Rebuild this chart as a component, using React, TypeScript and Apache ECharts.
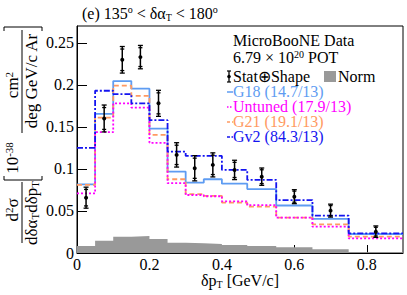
import React, { useEffect, useRef } from 'react';
import * as echarts from 'echarts';

// Bin edges of δp_T [GeV/c]
const binEdges = [0, 0.05, 0.1, 0.15, 0.2, 0.25, 0.3, 0.35, 0.4, 0.47, 0.55, 0.65, 0.75, 0.9];

// MicroBooNE data
const dataValues = [0.0658, 0.16, 0.2298, 0.233, 0.178, 0.1167, 0.1008, 0.1048, 0.0988, 0.0908, 0.067, 0.0504, 0.0254];
const totalErrors = [0.0125, 0.016, 0.0158, 0.0139, 0.0155, 0.0145, 0.015, 0.0143, 0.0115, 0.0103, 0.0083, 0.0077, 0.0068];
const statErrors = [0.0098, 0.013, 0.0128, 0.0112, 0.0125, 0.0115, 0.012, 0.0115, 0.009, 0.0082, 0.0066, 0.006, 0.0052];

// Generator predictions
const g18Values = [0.0817, 0.1655, 0.2045, 0.1955, 0.148, 0.0968, 0.0837, 0.0877, 0.0825, 0.076, 0.0565, 0.0405, 0.0226];
const untunedValues = [0.071, 0.1437, 0.178, 0.173, 0.131, 0.083, 0.069, 0.0675, 0.0615, 0.057, 0.042, 0.0313, 0.0175];
const g21Values = [0.081, 0.161, 0.199, 0.187, 0.1405, 0.0877, 0.07, 0.068, 0.06, 0.0552, 0.042, 0.034, 0.0194];
const gv2Values = [0.125, 0.193, 0.189, 0.178, 0.158, 0.1206, 0.1155, 0.1155, 0.0988, 0.0869, 0.063, 0.0444, 0.0234];

// Normalisation uncertainty
const normValues = [0.0083, 0.0147, 0.0194, 0.0202, 0.0167, 0.0123, 0.0115, 0.0107, 0.0095, 0.0083, 0.0067, 0.0044, 0.001];

const legendLabels = ['G18 (14.7/13)', 'Untuned (17.9/13)', 'G21 (19.1/13)', 'Gv2 (84.3/13)'];

const SERIF = 'Liberation Serif';
const C_G18 = '#5E9CF2';
const C_UNT = '#FF00FF';
const C_G21 = '#FF9A62';
const C_GV2 = '#1414F0';
const C_NORM = '#999999';

function histPoints(vals: number[]) {
  const pts: number[][] = [];
  vals.forEach((v, i) => {
    pts.push([binEdges[i], v]);
    pts.push([binEdges[i + 1], v]);
  });
  return pts;
}

const richBase = (size: number, lh = 16, color = '#000') => ({
  b: { fontSize: size, fontFamily: SERIF, color, lineHeight: lh },
  p: { fontSize: Math.round(size * 0.65), fontFamily: SERIF, color, lineHeight: 8, verticalAlign: 'top' },
  s: { fontSize: Math.round(size * 0.65), fontFamily: SERIF, color, lineHeight: 8, verticalAlign: 'bottom' },
});

export default function App() {
  const ref = useRef<HTMLDivElement>(null);
  useEffect(() => {
    if (!ref.current) return;
    const chart = echarts.init(ref.current, null, { renderer: 'svg' });

    const hist = (name: string, vals: number[], color: string, dash: any, z: number) => ({
      name,
      type: 'line',
      data: histPoints(vals),
      showSymbol: false,
      symbol: 'none',
      silent: true,
      z,
      lineStyle: { color, width: 1.8, type: dash },
    });

    const errData = dataValues.map((v, i) => [
      (binEdges[i] + binEdges[i + 1]) / 2,
      v,
      totalErrors[i],
      statErrors[i],
    ]);

    const titleRich = richBase(16, 18);
    const axRich = richBase(17, 18);
    const legRich = richBase(16, 15);

    const legendItems: any[] = [];
    const legColors = [C_G18, C_UNT, C_G21, C_GV2];
    const legDash = [[], [1.5, 1.5], [3, 2], [3, 1.5, 1.5, 1.5]];
    const legY = [91, 106, 121, 136];
    legendLabels.forEach((lab, i) => {
      legendItems.push({
        type: 'line',
        shape: { x1: 227, y1: legY[i] + 1, x2: 233, y2: legY[i] + 1 },
        style: { stroke: legColors[i], lineWidth: 1.5, lineDash: legDash[i].length ? legDash[i] : null },
      });
      legendItems.push({
        type: 'text',
        x: 233,
        y: legY[i],
        style: { text: lab, fontSize: 16, lineHeight: 14, fontFamily: SERIF, fill: legColors[i], verticalAlign: 'middle', align: 'left' },
      });
    });

    const axisLabelStyle = {
      showMaxLabel: false,
      margin: 3,
      color: '#000',
      fontSize: 16,
      fontFamily: SERIF,
      formatter: (v: number) => String(+v.toFixed(2)),
    };

    chart.setOption({
      animation: false,
      textStyle: { fontFamily: SERIF },
      grid: { left: 77, top: 26, width: 326, height: 227, show: true, borderColor: '#000', borderWidth: 1, backgroundColor: 'transparent' },
      xAxis: {
        type: 'value',
        min: 0,
        max: 0.9,
        interval: 0.2,
        axisLine: { show: true, lineStyle: { color: '#000', width: 1 } },
        axisTick: { show: true, inside: true, length: 8, lineStyle: { color: '#000' } },
        splitLine: { show: false },
        axisLabel: axisLabelStyle,
      },
      yAxis: {
        type: 'value',
        min: 0,
        max: 0.27,
        interval: 0.05,
        axisLine: { show: true, lineStyle: { color: '#000', width: 1 } },
        axisTick: { show: true, inside: true, length: 10, lineStyle: { color: '#000' } },
        splitLine: { show: false },
        axisLabel: axisLabelStyle,
      },
      series: [
        {
          name: 'Norm',
          type: 'line',
          data: histPoints(normValues),
          showSymbol: false,
          symbol: 'none',
          silent: true,
          z: 1,
          lineStyle: { width: 0, color: C_NORM },
          areaStyle: { color: C_NORM, opacity: 1 },
        },
        hist('G18', g18Values, C_G18, 'solid', 3),
        hist('G21', g21Values, C_G21, [5, 3], 4),
        hist('Untuned', untunedValues, C_UNT, [2, 2], 5),
        hist('Gv2', gv2Values, C_GV2, [6, 2, 2, 2], 6),
        {
          name: 'Data',
          type: 'custom',
          z: 10,
          silent: true,
          data: errData,
          encode: { x: 0, y: 1 },
          renderItem: (params: any, api: any) => {
            const x = api.value(0);
            const y = api.value(1);
            const e = api.value(2);
            const s = api.value(3);
            const c = api.coord([x, y]);
            const t = api.coord([x, y + e]);
            const b = api.coord([x, y - e]);
            const st = api.coord([x, y + s]);
            const sb = api.coord([x, y - s]);
            const cx = c[0];
            const st1 = { stroke: '#000', lineWidth: 1.3 };
            const cap = (yy: number, w: number) => ({ type: 'line', shape: { x1: cx - w, y1: yy, x2: cx + w, y2: yy }, style: st1 });
            return {
              type: 'group',
              children: [
                { type: 'line', shape: { x1: cx, y1: t[1], x2: cx, y2: b[1] }, style: { stroke: '#000', lineWidth: 1.5 } },
                cap(t[1], 2.5),
                cap(b[1], 2.5),
                cap(st[1], 2),
                cap(sb[1], 2),
                { type: 'circle', shape: { cx, cy: c[1], r: 2 }, style: { fill: '#000' } },
              ],
            };
          },
        },
      ],
      graphic: [
        // Title
        {
          type: 'text',
          x: 82,
          y: 13,
          style: {
            text: '{b|(e) 135}{p|o}{b| < δα}{s|T}{b| < 180}{p|o}',
            rich: titleRich,
            align: 'left',
            verticalAlign: 'middle',
          },
        },
        // Y axis title (rotated, reads bottom to top)
        {
          type: 'group',
          x: 0,
          y: 245,
          rotation: Math.PI / 2,
          children: [
            { type: 'text', x: 35, y: 12.5, style: { text: '{b|d}{p|2}{b|σ}', rich: axRich, align: 'center', verticalAlign: 'middle' } },
            { type: 'line', shape: { x1: 2, y1: 22, x2: 63, y2: 22 }, style: { stroke: '#000', lineWidth: 1 } },
            { type: 'text', x: 32, y: 31, style: { text: '{b|dδα}{s|T}{b|dδp}{s|T}', rich: axRich, align: 'center', verticalAlign: 'middle' } },
            { type: 'polyline', shape: { points: [[69, 4], [65, 4], [65, 42], [69, 42]] }, style: { stroke: '#000', fill: null, lineWidth: 1 } },
            { type: 'text', x: 87, y: 12.5, style: { text: '{b|10}{p|-38}', rich: axRich, align: 'center', verticalAlign: 'middle' } },
            { type: 'text', x: 160, y: 12.5, style: { text: '{b|cm}{p|2}', rich: axRich, align: 'center', verticalAlign: 'middle' } },
            { type: 'line', shape: { x1: 112, y1: 22, x2: 215, y2: 22 }, style: { stroke: '#000', lineWidth: 1 } },
            { type: 'text', x: 164, y: 31, style: { text: '{b|deg GeV/c Ar}', rich: axRich, align: 'center', verticalAlign: 'middle' } },
            { type: 'polyline', shape: { points: [[214, 4], [218, 4], [218, 42], [214, 42]] }, style: { stroke: '#000', fill: null, lineWidth: 1 } },
          ],
        },
        // X axis title
        {
          type: 'text',
          x: 240,
          y: 280,
          style: { text: '{b|δp}{s|T}{b| [GeV/c]}', rich: richBase(16, 18), align: 'center', verticalAlign: 'middle' },
        },
        // Legend block
        { type: 'text', x: 233, y: 40, style: { text: 'MicroBooNE Data', fontSize: 16, lineHeight: 14, fontFamily: SERIF, fill: '#000', align: 'left', verticalAlign: 'middle' } },
        { type: 'text', x: 233, y: 57, style: { text: '{b|6.79 × 10}{p|20}{b| POT}', rich: legRich, align: 'left', verticalAlign: 'middle' } },
        { type: 'line', shape: { x1: 229, y1: 71, x2: 229, y2: 82 }, style: { stroke: '#000', lineWidth: 1.3 } },
        { type: 'line', shape: { x1: 227, y1: 71, x2: 231, y2: 71 }, style: { stroke: '#000', lineWidth: 1.2 } },
        { type: 'line', shape: { x1: 227, y1: 82, x2: 231, y2: 82 }, style: { stroke: '#000', lineWidth: 1.2 } },
        { type: 'circle', shape: { cx: 229, cy: 76.5, r: 1.8 }, style: { fill: '#000' } },
        { type: 'text', x: 233, y: 76, style: { text: 'Stat⊕Shape', fontSize: 16, lineHeight: 14, fontFamily: SERIF, fill: '#000', align: 'left', verticalAlign: 'middle' } },
        { type: 'rect', shape: { x: 324, y: 71, width: 12, height: 11 }, style: { fill: C_NORM } },
        { type: 'text', x: 338, y: 76, style: { text: 'Norm', fontSize: 16, lineHeight: 14, fontFamily: SERIF, fill: '#000', align: 'left', verticalAlign: 'middle' } },
        ...legendItems,
      ],
    });
    return () => chart.dispose();
  }, []);
  return <div ref={ref} style={{ position: 'fixed', left: 0, top: 0, width: 407, height: 295, background: '#fff' }} />;
}
